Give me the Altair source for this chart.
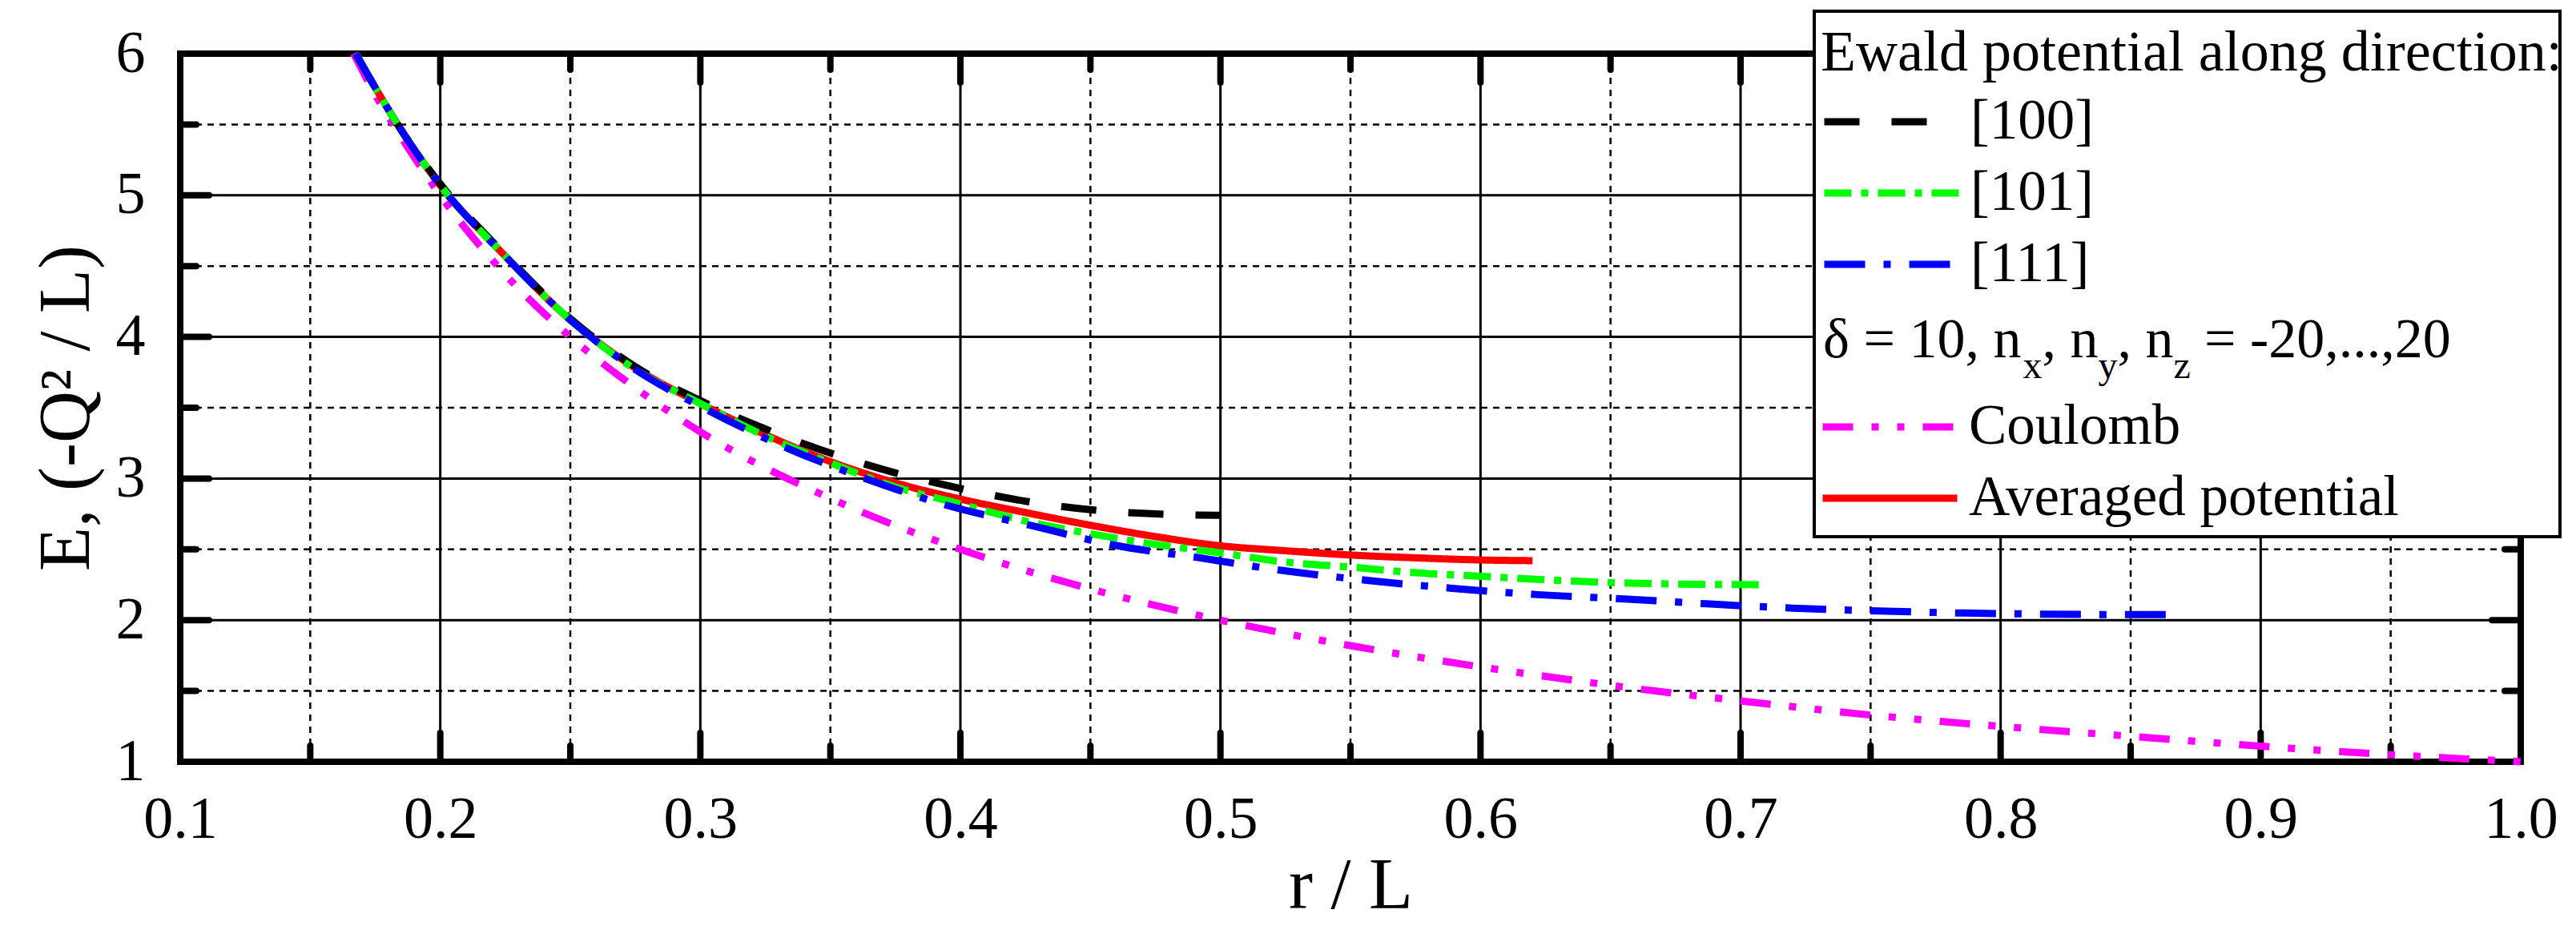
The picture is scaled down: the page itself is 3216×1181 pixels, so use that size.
import altair as alt
import pandas as pd

# ---------------- data ----------------
r_100 = [0.1675, 0.175, 0.185, 0.2, 0.225, 0.25, 0.275, 0.3, 0.325, 0.35, 0.375, 0.4, 0.425, 0.45, 0.475, 0.5]
E_100 = [6.0, 5.76, 5.46, 5.08, 4.58, 4.13, 3.79, 3.55, 3.35, 3.18, 3.04, 2.93, 2.84, 2.78, 2.75, 2.74]

r_101 = [0.1675, 0.175, 0.185, 0.2, 0.225, 0.25, 0.275, 0.3, 0.325, 0.35, 0.375, 0.4, 0.425, 0.45,
         0.475, 0.5, 0.525, 0.55, 0.575, 0.6, 0.625, 0.65, 0.675, 0.707]
E_101 = [6.0, 5.76, 5.46, 5.07, 4.57, 4.12, 3.77, 3.53, 3.30, 3.11, 2.94, 2.82, 2.70, 2.61,
         2.535, 2.475, 2.41, 2.375, 2.335, 2.31, 2.285, 2.265, 2.255, 2.25]

r_111 = [0.1675, 0.175, 0.185, 0.2, 0.225, 0.25, 0.275, 0.3, 0.334, 0.365, 0.395, 0.428, 0.459,
         0.492, 0.524, 0.557, 0.589, 0.622, 0.655, 0.687, 0.72, 0.753, 0.786, 0.805, 0.837, 0.866]
E_111 = [6.0, 5.76, 5.46, 5.07, 4.57, 4.12, 3.77, 3.51, 3.21, 2.99, 2.81, 2.665, 2.53,
         2.44, 2.35, 2.28, 2.225, 2.18, 2.15, 2.115, 2.085, 2.065, 2.05, 2.045, 2.04, 2.04]

r_avg = [0.1675, 0.175, 0.185, 0.2, 0.225, 0.25, 0.275, 0.3, 0.325, 0.35, 0.375, 0.4, 0.425, 0.45,
         0.475, 0.5, 0.525, 0.55, 0.575, 0.6, 0.62]
E_avg = [6.0, 5.76, 5.46, 5.07, 4.57, 4.12, 3.78, 3.53, 3.31, 3.12, 2.97, 2.855, 2.76, 2.67,
         2.59, 2.525, 2.49, 2.46, 2.44, 2.425, 2.42]

r_coul = [0.1667, 0.175, 0.185, 0.2, 0.225, 0.25, 0.275, 0.3, 0.35, 0.4, 0.45, 0.5, 0.55, 0.6,
          0.65, 0.7, 0.75, 0.8, 0.85, 0.9, 0.95, 1.0]
E_coul = [6.0, 5.71, 5.41, 5.0, 4.44, 4.0, 3.64, 3.33, 2.86, 2.5, 2.22, 2.0, 1.82, 1.67,
          1.54, 1.43, 1.33, 1.25, 1.18, 1.11, 1.05, 1.0]

directions = ["[100]", "[101]", "[111]"]
others = ["Coulomb", "Averaged potential"]

x_labels = [0.1, 0.2, 0.3, 0.4, 0.5, 0.6, 0.7, 0.8, 0.9, 1.0]
y_labels = [1, 2, 3, 4, 5, 6]
x_major = [0.2, 0.3, 0.4, 0.5, 0.6, 0.7, 0.8, 0.9]
x_minor = [0.15, 0.25, 0.35, 0.45, 0.55, 0.65, 0.75, 0.85, 0.95]
y_major = [2, 3, 4, 5]
y_minor = [1.5, 2.5, 3.5, 4.5, 5.5]

legend_title = "Ewald potential along direction:"
param_parts = ["δ = 10, n", "x", ", n", "y", ", n", "z", "= -20,...,20"]
x_title = "r / L"
y_title = "E, (-Q² / L)"

# ---------------- styling ----------------
W, H = 2922, 884
FONT = "Liberation Serif"

xscale = alt.Scale(domain=[0.1, 1.0], nice=False, zero=False)
yscale = alt.Scale(domain=[1, 6], nice=False, zero=False)

xaxis = alt.Axis(values=x_labels, format=".1f", title=x_title, ticks=False, tickSize=0,
                 domain=False, grid=False, labelFlush=False, labelOverlap=False,
                 labelFont=FONT, labelFontSize=74, labelColor="black",
                 labelBaseline="alphabetic", labelPadding=94,
                 titleFont=FONT, titleFontSize=90, titleFontWeight="normal", titleColor="black",
                 titleX=1461, titleY=182, titleBaseline="alphabetic", titleAlign="center")
yaxis = alt.Axis(values=y_labels, format="d", title=y_title, ticks=False, tickSize=0,
                 domain=False, grid=False, labelFlush=False, labelOverlap=False,
                 labelFont=FONT, labelFontSize=74, labelColor="black", labelPadding=44,
                 titleFont=FONT, titleFontSize=90, titleFontWeight="normal", titleColor="black",
                 titleX=-115, titleY=442, titleAngle=270, titleBaseline="alphabetic",
                 titleAlign="center")


def X(field):
    return alt.X(f"{field}:Q", scale=xscale, axis=xaxis)


def Y(field):
    return alt.Y(f"{field}:Q", scale=yscale, axis=yaxis)


layers = []

# grid lines
gx_major = pd.DataFrame({"v": x_major})
gx_minor = pd.DataFrame({"v": x_minor})
gy_major = pd.DataFrame({"v": y_major})
gy_minor = pd.DataFrame({"v": y_minor})

layers.append(alt.Chart(gx_minor).mark_rule(color="black", strokeWidth=2.5, strokeDash=[8, 7]).encode(x=X("v")))
layers.append(alt.Chart(gy_minor).mark_rule(color="black", strokeWidth=2.5, strokeDash=[8, 7]).encode(y=Y("v")))
layers.append(alt.Chart(gx_major).mark_rule(color="black", strokeWidth=3).encode(x=X("v")))
layers.append(alt.Chart(gy_major).mark_rule(color="black", strokeWidth=3).encode(y=Y("v")))

# inward ticks on all four sides
for df, ln in ((gx_major, 36), (gx_minor, 20)):
    layers.append(alt.Chart(df).mark_rule(color="black", strokeWidth=8, strokeCap="round").encode(
        x=X("v"), y=alt.value(H), y2=alt.value(H - ln)))
    layers.append(alt.Chart(df).mark_rule(color="black", strokeWidth=8, strokeCap="round").encode(
        x=X("v"), y=alt.value(0), y2=alt.value(ln)))
for df, ln in ((gy_major, 36), (gy_minor, 20)):
    layers.append(alt.Chart(df).mark_rule(color="black", strokeWidth=8, strokeCap="round").encode(
        y=Y("v"), x=alt.value(0), x2=alt.value(ln)))
    layers.append(alt.Chart(df).mark_rule(color="black", strokeWidth=8, strokeCap="round").encode(
        y=Y("v"), x=alt.value(W), x2=alt.value(W - ln)))

common_legend = dict(orient="none", direction="vertical", symbolType="stroke", symbolSize=28224,
                     symbolStrokeWidth=9, clipHeight=70, rowPadding=18, labelOffset=10, padding=0,
                     labelFont=FONT, labelFontSize=71, labelColor="black", labelLimit=1500,
                     titleFont=FONT, titleFontSize=72, titleFontWeight="normal", titleColor="black",
                     titleLimit=2000, symbolOpacity=1)

# Coulomb and averaged potential
oth = pd.DataFrame({
    "r": r_coul + r_avg,
    "E": E_coul + E_avg,
    "curve": [others[0]] * len(r_coul) + [others[1]] * len(r_avg),
})
legB = alt.Legend(title=None, legendX=2046, legendY=431, **common_legend)
layers.append(alt.Chart(oth).mark_line(strokeWidth=9, strokeCap="butt", interpolate="monotone").encode(
    x=X("r"), y=Y("E"),
    color=alt.Color("curve:N", scale=alt.Scale(domain=others, range=["#ff00ff", "#ff0000"]), legend=legB),
    strokeDash=alt.StrokeDash("curve:N", scale=alt.Scale(domain=others, range=[[38, 23, 9, 23, 9, 23], [1, 0]]),
                              legend=legB),
))

# Ewald potential along the three directions
ew = pd.DataFrame({
    "r": r_100 + r_101 + r_111,
    "E": E_100 + E_101 + E_111,
    "direction": [directions[0]] * len(r_100) + [directions[1]] * len(r_101) + [directions[2]] * len(r_111),
})
legA = alt.Legend(title=legend_title, legendX=2048, legendY=-36, titlePadding=14, **common_legend)
layers.append(alt.Chart(ew).mark_line(strokeWidth=9, strokeCap="butt", interpolate="monotone").encode(
    x=X("r"), y=Y("E"),
    color=alt.Color("direction:N", scale=alt.Scale(domain=directions, range=["#000000", "#00ff00", "#0000ff"]),
                    legend=legA),
    strokeDash=alt.StrokeDash("direction:N",
                              scale=alt.Scale(domain=directions, range=[[44, 40], [34, 12, 9, 12], [51, 23, 9, 23]]),
                              legend=legA),
))

# legend frame
one = pd.DataFrame({"k": [0]})
layers.append(alt.Chart(one).mark_rect(fill="white", stroke="black", strokeWidth=4).encode(
    x=alt.value(2040), x2=alt.value(2971), y=alt.value(-53), y2=alt.value(603)))

# parameter line with subscripts
part_x = [2051, 2300.5, 2324.5, 2394.5, 2418.5, 2488.5, 2527]
part_sub = [False, True, False, True, False, True, False]
for txt, px, sub in zip(param_parts, part_x, part_sub):
    layers.append(alt.Chart(one).mark_text(font=FONT, fontSize=48 if sub else 70, color="black",
                                           align="left", baseline="alphabetic").encode(
        x=alt.value(px), y=alt.value(405 if sub else 379), text=alt.value(txt)))

chart = alt.layer(*layers).resolve_scale(color="independent", strokeDash="independent").properties(
    width=W, height=H,
    padding={"left": 217, "top": 59, "right": 61, "bottom": 212},
    autosize=alt.AutoSizeParams(type="none"),
).configure(
    font=FONT, background="white",
    view=alt.ViewConfig(stroke="black", strokeWidth=8),
)

chart.save("out.html", embed_options={"renderer": "svg", "actions": False})
